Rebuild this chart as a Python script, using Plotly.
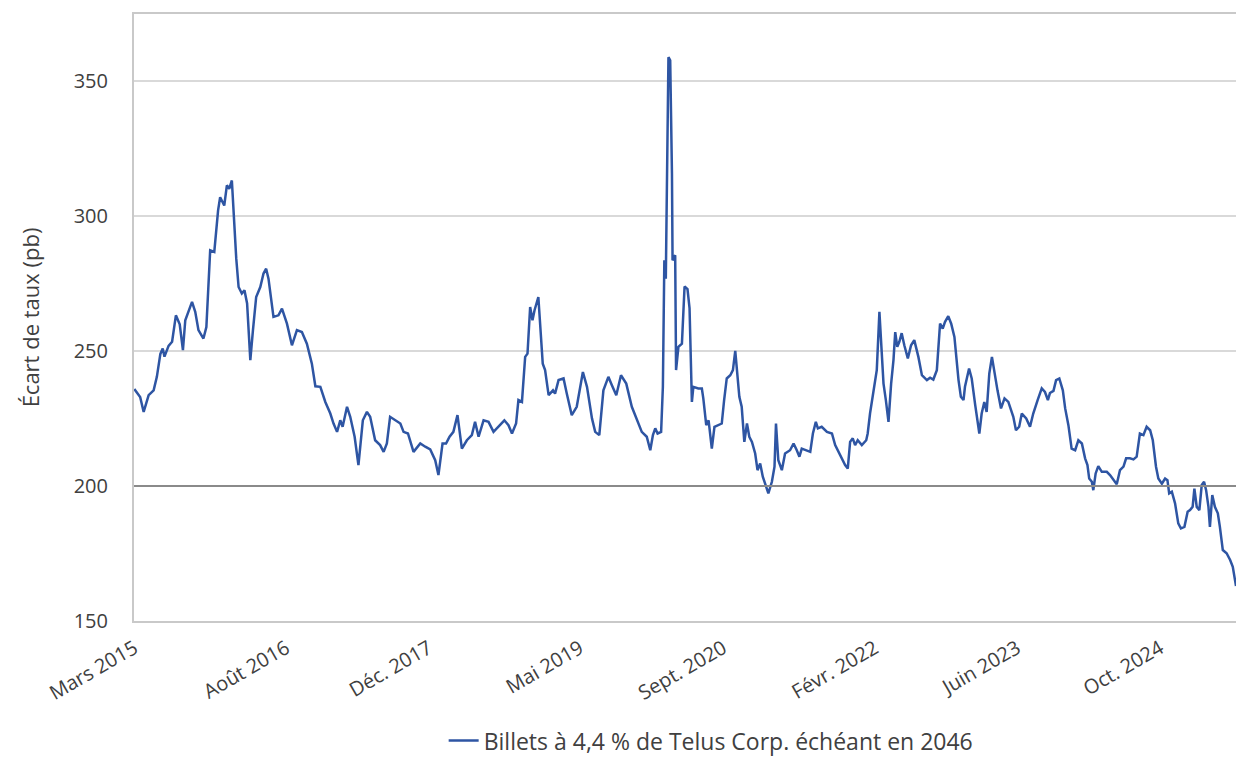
import pandas as pd
import plotly.graph_objects as go

# Série : écart de taux (pb) des billets Telus 4,4 % 2046
DEBUT = "2015-03-02"

# jours écoulés depuis DEBUT
jours = [
    0, 20, 32, 49, 66, 77, 89, 97, 103, 117, 129, 142, 155, 166, 174, 197, 208, 219, 236, 246,
    259, 273, 286, 293, 307, 316, 324, 333, 348, 356, 367, 376, 385, 396, 405, 416, 430, 441, 450, 458,
    475, 492, 504, 521, 538, 555, 572, 589, 606, 618, 635, 652, 669, 680, 692, 703, 711, 726, 737, 752,
    765, 780, 794, 805, 822, 839, 851, 862, 873, 891, 908, 919, 934, 953, 976, 993, 1010, 1027, 1038, 1052,
    1064, 1076, 1089, 1103, 1118, 1135, 1152, 1163, 1175, 1192, 1209, 1226, 1243, 1263, 1277, 1289, 1303, 1311, 1323, 1334,
    1342, 1351, 1359, 1366, 1379, 1394, 1402, 1414, 1429, 1436, 1448, 1465, 1476, 1493, 1510, 1531, 1545, 1562, 1573, 1587,
    1601, 1618, 1630, 1645, 1661, 1679, 1698, 1715, 1732, 1749, 1761, 1770, 1778, 1786, 1798, 1804, 1809, 1814, 1818, 1823,
    1829, 1835, 1837, 1846, 1849, 1857, 1869, 1878, 1888, 1895, 1903, 1908, 1925, 1937, 1942, 1952, 1960, 1971, 1980, 1994,
    2005, 2013, 2022, 2034, 2043, 2051, 2056, 2065, 2073, 2082, 2091, 2099, 2108, 2119, 2127, 2136, 2145, 2156, 2164, 2176,
    2185, 2190, 2198, 2210, 2221, 2238, 2250, 2261, 2270, 2278, 2293, 2307, 2316, 2326, 2333, 2346, 2364, 2381, 2392, 2409,
    2426, 2435, 2443, 2452, 2460, 2469, 2483, 2498, 2503, 2511, 2522, 2534, 2543, 2549, 2557, 2565, 2574, 2583, 2591, 2597,
    2604, 2611, 2619, 2628, 2640, 2651, 2662, 2676, 2688, 2705, 2716, 2727, 2739, 2750, 2759, 2767, 2778, 2788, 2799, 2813,
    2821, 2830, 2835, 2849, 2858, 2870, 2884, 2892, 2901, 2909, 2918, 2927, 2935, 2946, 2958, 2970, 2983, 3000, 3009, 3020,
    3029, 3044, 3057, 3068, 3083, 3097, 3108, 3118, 3125, 3137, 3146, 3157, 3169, 3177, 3188, 3199, 3211, 3222, 3234, 3245,
    3253, 3259, 3268, 3273, 3281, 3290, 3302, 3319, 3330, 3344, 3353, 3364, 3376, 3385, 3398, 3410, 3421, 3432, 3444, 3455,
    3467, 3476, 3487, 3495, 3507, 3518, 3526, 3532, 3541, 3552, 3563, 3572, 3584, 3595, 3603, 3612, 3618, 3626, 3635, 3643,
    3651, 3658, 3666, 3671, 3679, 3688, 3698, 3705, 3715, 3728, 3740, 3749, 3757, 3760,
]

ecart_pb = [
    236.0, 233.0, 227.5, 233.7, 235.5, 240.5, 249.0, 251.0, 248.0, 252.0, 253.5, 263.3, 260.0, 250.4, 261.5, 268.3, 264.6, 257.8, 254.7, 259.0,
    287.4, 286.8, 302.2, 307.1, 304.0, 311.5, 310.2, 313.3, 284.3, 273.8, 271.4, 272.6, 267.7, 246.7, 257.8, 270.1, 273.8, 278.8, 280.6, 276.9,
    262.7, 263.3, 265.8, 260.2, 252.2, 257.8, 257.1, 252.8, 245.4, 237.0, 236.8, 231.2, 226.9, 223.2, 220.1, 224.4, 222.0, 229.4, 225.7, 218.3,
    207.8, 224.4, 227.5, 225.7, 217.0, 215.2, 212.7, 215.8, 225.7, 224.4, 223.2, 220.1, 219.5, 212.7, 215.8, 214.6, 213.6, 209.6, 204.1, 215.8,
    215.8, 218.3, 220.1, 226.3, 213.9, 217.0, 218.9, 223.8, 218.3, 224.4, 223.8, 220.1, 222.0, 224.4, 222.6, 219.5, 223.2, 231.9, 231.2, 247.9,
    249.1, 266.4, 261.5, 265.2, 270.1, 245.4, 243.0, 233.7, 235.5, 234.3, 239.3, 239.9, 234.3, 226.3, 229.4, 242.3, 236.8, 225.1, 220.1, 218.9,
    235.5, 240.5, 237.4, 233.7, 241.1, 238.0, 229.4, 224.4, 220.1, 218.3, 213.3, 218.9, 221.4, 219.5, 220.1, 236.8, 283.7, 276.9, 315.8, 359.0,
    357.8, 315.8, 283.7, 285.6, 243.0, 251.6, 252.8, 274.0, 273.0, 266.0, 231.2, 236.8, 236.2, 236.2, 232.5, 222.6, 224.4, 213.9, 222.0, 222.6,
    223.2, 231.9, 239.9, 241.1, 243.0, 250.1, 244.2, 233.1, 229.4, 216.4, 223.2, 218.3, 216.4, 212.1, 205.9, 208.4, 203.5, 199.7, 197.3, 201.6,
    207.2, 223.2, 209.6, 205.9, 212.1, 213.3, 215.8, 213.3, 210.9, 213.9, 213.3, 212.7, 219.5, 223.8, 221.4, 222.0, 220.1, 219.5, 215.2, 211.5,
    207.8, 206.5, 216.4, 217.7, 215.2, 217.0, 215.2, 217.0, 219.5, 226.9, 235.5, 243.0, 264.6, 251.6, 238.0, 231.9, 223.8, 238.0, 246.7, 257.1,
    251.6, 253.5, 256.7, 252.2, 247.3, 252.2, 254.1, 247.9, 241.1, 239.3, 240.2, 239.5, 243.0, 260.2, 258.4, 260.9, 263.0, 260.2, 255.3, 239.3,
    233.1, 231.9, 236.8, 243.6, 239.9, 230.0, 219.5, 226.9, 231.2, 227.5, 241.7, 247.9, 242.3, 235.5, 228.8, 232.5, 231.2, 225.7, 220.7, 222.0,
    226.9, 225.1, 222.0, 226.9, 231.9, 236.2, 234.9, 231.9, 234.5, 235.3, 239.3, 239.9, 235.5, 228.8, 222.6, 213.9, 213.3, 217.0, 215.8, 210.3,
    207.8, 202.8, 201.6, 198.5, 204.7, 207.4, 205.3, 205.3, 204.1, 202.2, 200.7, 205.9, 207.2, 210.3, 210.3, 209.9, 210.9, 219.5, 218.9, 222.0,
    220.7, 217.0, 207.2, 202.8, 200.9, 202.8, 202.2, 197.3, 197.9, 193.6, 186.2, 184.3, 184.9, 190.5, 191.1, 192.3, 199.1, 192.3, 191.1, 200.4,
    201.6, 198.5, 192.3, 184.9, 196.7, 192.3, 189.9, 184.9, 176.3, 175.1, 172.6, 170.1, 163.5, 163.0,
]

# Étiquettes de l'axe horizontal
etiquettes_dates = ["2015-03-02", "2016-08-01", "2017-12-01", "2019-05-01",
                    "2020-09-01", "2022-02-01", "2023-06-01", "2024-10-01"]
etiquettes = ["Mars 2015", "Août 2016", "Déc. 2017", "Mai 2019",
              "Sept. 2020", "Févr. 2022", "Juin 2023", "Oct. 2024"]

graduations_y = [150, 200, 250, 300, 350]
SEUIL = 200
NOM_SERIE = "Billets à 4,4 % de Telus Corp. échéant en 2046"

dates = pd.Timestamp(DEBUT) + pd.to_timedelta(jours, unit="D")

POLICE = "Open Sans, Lato, sans-serif"
GRIS_TEXTE = "#404040"

fig = go.Figure()
fig.add_trace(go.Scatter(
    x=dates, y=ecart_pb, mode="lines", name=NOM_SERIE,
    line=dict(color="#2E55A3", width=2.5),
    showlegend=True,
))

# ligne de repère à 200 pb, plus foncée que le quadrillage
fig.add_shape(type="line", xref="paper", x0=0, x1=1, yref="y", y0=SEUIL, y1=SEUIL,
              line=dict(color="#8a8a8a", width=2), layer="above")

fig.update_layout(
    width=1236, height=757,
    margin=dict(l=134, r=0, t=14, b=136, autoexpand=False),
    paper_bgcolor="white", plot_bgcolor="white",
    font=dict(family=POLICE, color=GRIS_TEXTE, size=20),
    showlegend=True,
    legend=dict(
        orientation="h", x=0.281, xanchor="left", y=-0.197, yanchor="middle",
        font=dict(family=POLICE, size=23, color=GRIS_TEXTE),
        itemwidth=30, bgcolor="rgba(0,0,0,0)",
    ),
    xaxis=dict(
        type="date", automargin=False,
        range=[pd.Timestamp(DEBUT) - pd.Timedelta(days=1), dates[-1]],
        tickmode="array", tickvals=etiquettes_dates, ticktext=etiquettes,
        tickangle=-30, tickfont=dict(family=POLICE, size=20, color=GRIS_TEXTE),
        showgrid=False, zeroline=False,
        showline=True, mirror=True, linecolor="#c9c9c9", linewidth=2,
        ticks="", ticklabelstandoff=6,
    ),
    yaxis=dict(
        range=[150, 375], automargin=False,
        tickmode="array", tickvals=graduations_y,
        tickfont=dict(family=POLICE, size=20, color=GRIS_TEXTE),
        showgrid=True, gridcolor="#d9d9d9", gridwidth=2,
        zeroline=False,
        showline=True, linecolor="#c9c9c9", linewidth=2,
        ticks="", ticklabelstandoff=20,
        title=dict(text="Écart de taux (pb)", standoff=28,
                   font=dict(family=POLICE, size=22, color=GRIS_TEXTE)),
    ),
)

fig.write_html("out.html")
